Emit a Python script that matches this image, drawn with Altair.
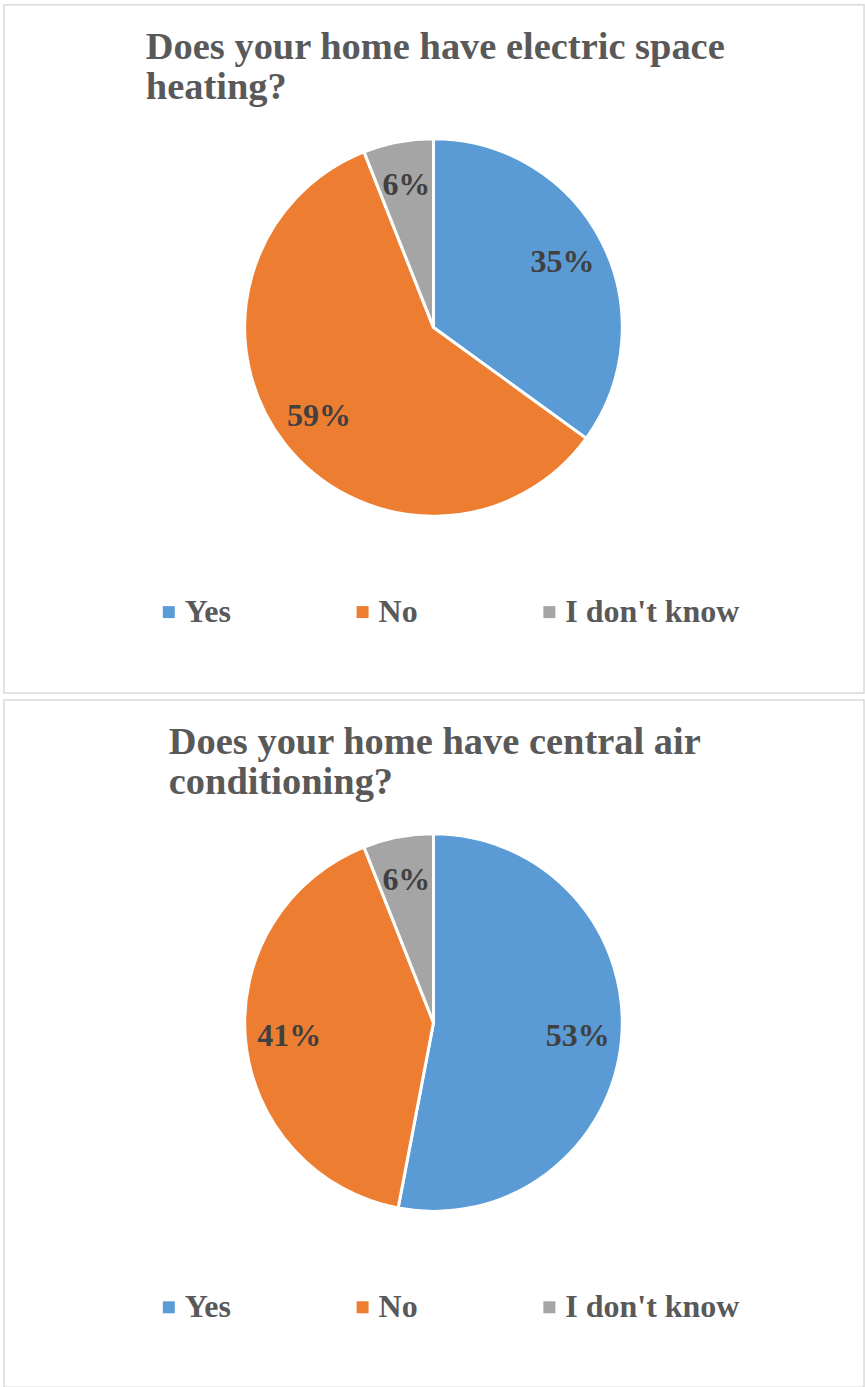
import altair as alt
import pandas as pd

categories = ["Yes", "No", "I don't know"]
heating_pct = [35, 59, 6]
ac_pct = [53, 41, 6]
colors = ["#5B9BD5", "#ED7D31", "#A5A5A5"]
titles = [
    "Does your home have electric space\nheating?",
    "Does your home have central air\nconditioning?",
]

FONT = "Liberation Serif"
W = 861
CX, CY, R = 430, 323, 189


def panel(pcts, title, title_x, h):
    df = pd.DataFrame({
        "answer": categories,
        "pct": pcts,
        "idx": list(range(len(categories))),
        "label": [f"{p}%" for p in pcts],
    })
    base = alt.Chart(df).encode(
        theta=alt.Theta("pct:Q", stack=True),
        order=alt.Order("idx:Q"),
    )
    arcs = base.mark_arc(outerRadius=R, stroke="white", strokeWidth=3).encode(
        x=alt.value(CX),
        y=alt.value(CY),
        color=alt.Color(
            "answer:N",
            sort=categories,
            scale=alt.Scale(domain=categories, range=colors),
            legend=alt.Legend(
                title=None, orient="none", legendX=149, legendY=592,
                direction="horizontal", columns=3, columnPadding=115,
                padding=0, symbolType="square", symbolSize=144,
                symbolStrokeWidth=0, labelFont=FONT, labelFontSize=32,
                labelFontWeight="bold", labelColor="#595959",
                labelOffset=0, labelLimit=0,
            ),
        ),
    )
    labels = base.mark_text(
        radius=145, font=FONT, fontSize=32, fontWeight="bold",
        color="#404040", align="center", baseline="middle",
    ).encode(x=alt.value(CX), y=alt.value(CY), text="label:N")
    ttl = alt.Chart(pd.DataFrame({"t": [title]})).mark_text(
        lineBreak="\n", align="left", baseline="alphabetic", font=FONT,
        fontSize=38.5, fontWeight="bold", color="#595959", lineHeight=40,
    ).encode(x=alt.value(title_x), y=alt.value(54), text="t:N")
    return alt.layer(arcs, labels, ttl).properties(width=W, height=h)


p1 = panel(heating_pct, titles[0], 142, 689)
p2 = panel(ac_pct, titles[1], 165, 688)

chart = alt.vconcat(p1, p2, spacing=5).properties(
    padding={"left": 3, "top": 3, "right": 0, "bottom": 0},
    background="white",
).configure_view(stroke="#D9D9D9", strokeWidth=1.5).resolve_scale(color="independent")

chart.save("out.html", embed_options={"renderer": "svg", "actions": False})
